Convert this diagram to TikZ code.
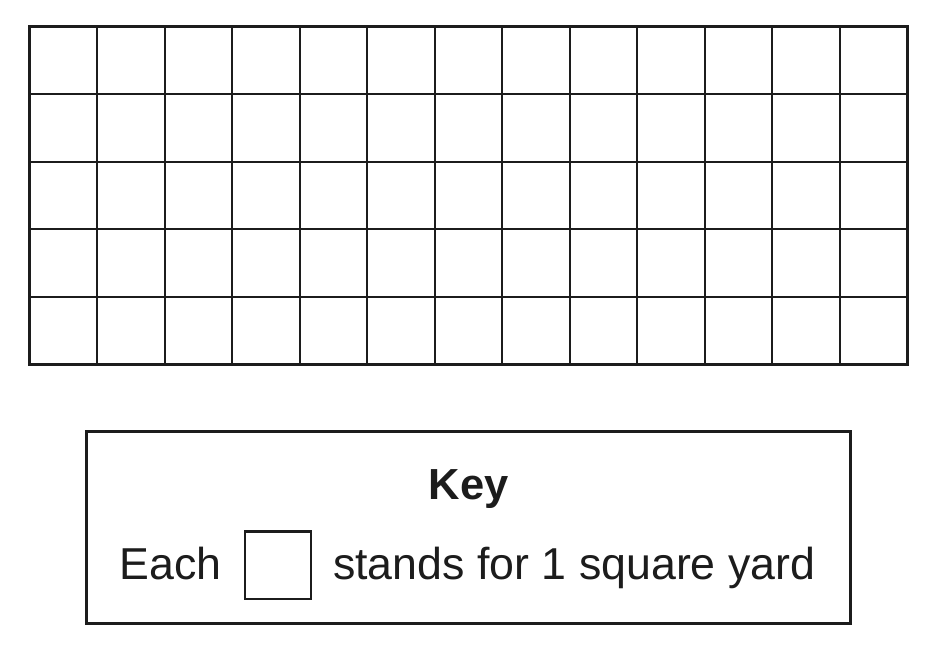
\documentclass[tikz,border=0pt]{standalone}
\usepackage{fontspec}
\setmainfont{Liberation Sans}
\definecolor{ink}{HTML}{1C1C1C}
\begin{document}
\begin{tikzpicture}[x=1pt,y=-1pt,
  thin grid/.style={draw=ink,line width=2pt},
  frame/.style={draw=ink,line width=3pt},
  keytext/.style={inner sep=0pt,anchor=base west,text=ink,font=\fontsize{44.7}{50}\selectfont}]
\useasboundingbox (0,0) rectangle (928,646);
% grid
\foreach \i in {1,...,12} \draw[thin grid] (29.5+\i*67.5,26.5) -- (29.5+\i*67.5,364);
\foreach \j in {1,...,4} \draw[thin grid] (29.5,26.5+\j*67.5) -- (907,26.5+\j*67.5);
\draw[frame] (29.5,26.5) rectangle (907,364);
% key box
\node[frame,minimum width=764pt,minimum height=191.5pt,inner sep=0pt] (keybox) at (468,527.25) {};
\node[keytext,font=\fontsize{43.5}{50}\selectfont\bfseries] (keylabel) at (428.5,499) {Key};
\node[keytext] (each) at (119.5,579) {Each};
\node[draw=ink,line width=2.6pt,minimum width=66pt,minimum height=67.5pt,inner sep=0pt] (sq) at (278,565.25) {};
\node[keytext] (stands) at (333,579) {stands for 1 square yard};
\end{tikzpicture}
\end{document}
